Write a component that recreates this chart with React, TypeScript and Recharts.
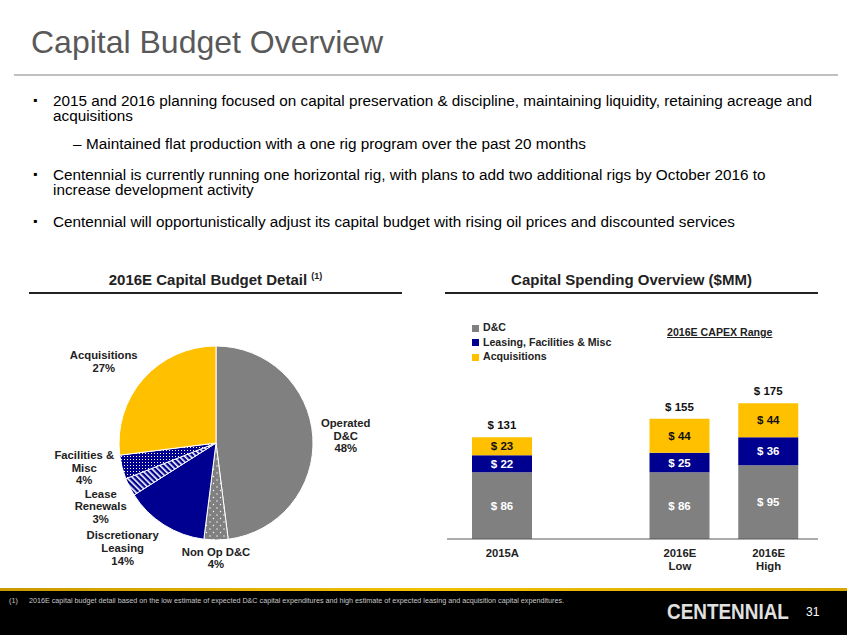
import {
  Bar,
  BarChart,
  Cell,
  LabelList,
  Legend,
  Pie,
  PieChart,
  XAxis,
  YAxis
} from "recharts";

const FONT = "Arial, 'Liberation Sans', sans-serif";

// pie: 2016E capital budget detail (%)
const PIE_NAMES = [
  "Operated\nD&C",
  "Non Op D&C",
  "Discretionary\nLeasing",
  "Lease\nRenewals",
  "Facilities &\nMisc",
  "Acquisitions"
];
const PIE_VALUES = [48, 4, 14, 3, 4, 27];

// bars: capital spending ($MM); the blank category is the gap on the slide
const BAR_CATEGORIES = ["2015A", "", "2016E\nLow", "2016E\nHigh"];
const DC_VALUES = [86, null, 86, 95];
const LEASING_VALUES = [22, null, 25, 36];
const ACQ_VALUES = [23, null, 44, 44];
const SERIES_NAMES = ["D&C", "Leasing, Facilities & Misc", "Acquisitions"];

const GRAY = "#808080";
const NAVY = "#000090";
const GOLD = "#FFC000";

const SLICE_FILLS = [GRAY, "url(#dotsGray)", NAVY, "url(#stripesNavy)", "url(#gridNavy)", GOLD];
// hand placement of the slide's pie labels, relative to the radial spot
const LABEL_NUDGE = [[-5, 1], [0, -20], [-21, -9], [5, 2], [-1, -9], [-11, 8]];

const pieData = PIE_NAMES.map((name, i) => ({ name, value: PIE_VALUES[i] }));
const barData = BAR_CATEGORIES.map((cat, i) => ({
  cat,
  dc: DC_VALUES[i],
  leasing: LEASING_VALUES[i],
  acq: ACQ_VALUES[i],
  total: DC_VALUES[i] == null ? null : (DC_VALUES[i] || 0) + (LEASING_VALUES[i] || 0) + (ACQ_VALUES[i] || 0)
}));

const RAD = Math.PI / 180;

function PieLabel(props: any) {
  const { cx, cy, midAngle, outerRadius, index, name, value } = props;
  const r = outerRadius + 38;
  const [dx, dy] = LABEL_NUDGE[index];
  const x = cx + r * Math.cos(-midAngle * RAD) + dx;
  const y = cy + r * Math.sin(-midAngle * RAD) + dy;
  const lines = [...String(name).split("\n"), `${value}%`];
  const lh = 12.6;
  const y0 = y - ((lines.length - 1) * lh) / 2 + 4;
  return (
    <text textAnchor="middle" fontFamily={FONT} fontSize={11.3} fontWeight="bold" fill="#222">
      {lines.map((l, i) => (
        <tspan key={i} x={x} y={y0 + i * lh}>
          {l}
        </tspan>
      ))}
    </text>
  );
}

function CatTick(props: any) {
  const { x, y, payload } = props;
  const lines = String(payload.value).split("\n");
  return (
    <text textAnchor="middle" fontFamily={FONT} fontSize={11.3} fontWeight="bold" fill="#222">
      {lines.map((l, i) => (
        <tspan key={i} x={x} y={y + 10 + i * 13}>
          {l}
        </tspan>
      ))}
    </text>
  );
}

function TotalLabel(props: any) {
  const { x, y, width, value } = props;
  if (value == null) return null;
  return (
    <text
      x={x + width / 2}
      y={y - 8}
      textAnchor="middle"
      fontFamily={FONT}
      fontSize={11.5}
      fontWeight="bold"
      fill="#111"
    >
      {`$ ${value}`}
    </text>
  );
}

const money = (v: any) => (v == null ? "" : `$ ${v}`);

export default function App() {
  return (
    <div
      style={{
        position: "absolute",
        left: 0,
        top: 0,
        width: 847,
        height: 635,
        background: "#fff",
        fontFamily: FONT,
        overflow: "hidden"
      }}
    >
      <div style={{ position: "absolute", left: 31, top: 24, fontSize: 32, color: "#595959" }}>
        Capital Budget Overview
      </div>
      <div style={{ position: "absolute", left: 14, top: 74, width: 824, height: 2, background: "#c0c0c0" }} />

      <div style={{ position: "absolute", left: 0, top: 0, fontSize: 15.3, color: "#000", lineHeight: "15px" }}>
        <div style={{ position: "absolute", left: 33, top: 93, fontSize: 12 }}>▪</div>
        <div style={{ position: "absolute", left: 53, top: 93, width: 775 }}>
          2015 and 2016 planning focused on capital preservation &amp; discipline, maintaining liquidity, retaining acreage and acquisitions
        </div>
        <div style={{ position: "absolute", left: 73, top: 136 }}>–</div>
        <div style={{ position: "absolute", left: 86, top: 136, whiteSpace: "nowrap" }}>
          Maintained flat production with a one rig program over the past 20 months
        </div>
        <div style={{ position: "absolute", left: 33, top: 167, fontSize: 12 }}>▪</div>
        <div style={{ position: "absolute", left: 53, top: 167, width: 735 }}>
          Centennial is currently running one horizontal rig, with plans to add two additional rigs by October 2016 to increase development activity
        </div>
        <div style={{ position: "absolute", left: 33, top: 214, fontSize: 12 }}>▪</div>
        <div style={{ position: "absolute", left: 53, top: 214, whiteSpace: "nowrap" }}>
          Centennial will opportunistically adjust its capital budget with rising oil prices and discounted services
        </div>
      </div>

      <div style={{ position: "absolute", left: 29, top: 271, width: 373, textAlign: "center", fontSize: 15, fontWeight: "bold", color: "#222" }}>
        2016E Capital Budget Detail <sup style={{ fontSize: 9 }}>(1)</sup>
      </div>
      <div style={{ position: "absolute", left: 29, top: 292, width: 373, height: 2, background: "#222" }} />

      <div style={{ position: "absolute", left: 445, top: 271, width: 373, textAlign: "center", fontSize: 15, fontWeight: "bold", color: "#222" }}>
        Capital Spending Overview ($MM)
      </div>
      <div style={{ position: "absolute", left: 445, top: 292, width: 373, height: 2, background: "#222" }} />

      <div style={{ position: "absolute", left: 16, top: 300 }}>
        <PieChart width={400} height={285} margin={{ top: 0, right: 0, bottom: 0, left: 0 }}>
          <defs>
            <pattern id="dotsGray" width="7" height="7" patternUnits="userSpaceOnUse">
              <rect width="7" height="7" fill={GRAY} />
              <circle cx="1.5" cy="1.5" r="0.7" fill="#fff" />
              <circle cx="5" cy="5" r="0.7" fill="#fff" />
            </pattern>
            <pattern id="stripesNavy" width="4" height="4" patternUnits="userSpaceOnUse" patternTransform="rotate(-45)">
              <rect width="4" height="4" fill={NAVY} />
              <rect width="1.6" height="4" fill="#fff" />
            </pattern>
            <pattern id="gridNavy" width="3" height="3" patternUnits="userSpaceOnUse">
              <rect width="3" height="3" fill={NAVY} />
              <rect width="1" height="1" fill="#fff" />
            </pattern>
          </defs>
          <Pie
            data={pieData}
            dataKey="value"
            nameKey="name"
            cx={200}
            cy={143}
            outerRadius={97}
            startAngle={90}
            endAngle={-270}
            stroke="#fff"
            strokeWidth={1}
            label={PieLabel}
            labelLine={false}
            isAnimationActive={false}
          >
            {pieData.map((d, i) => (
              <Cell key={d.name} fill={SLICE_FILLS[i]} />
            ))}
          </Pie>
        </PieChart>
      </div>

      <div style={{ position: "absolute", left: 440, top: 300 }}>
        <BarChart
          width={400}
          height={290}
          data={barData}
          margin={{ top: 45, right: 22, bottom: 11, left: 7 }}
          barSize={60}
        >
          <XAxis
            dataKey="cat"
            height={40}
            padding={{ left: 11, right: 5 }}
            axisLine={{ stroke: "#595959" }}
            tickLine={false}
            tick={<CatTick />}
            interval={0}
          />
          <YAxis hide domain={[0, 250]} />
          <Legend
            layout="vertical"
            align="center"
            verticalAlign="middle"
            iconType="square"
            iconSize={7}
            itemSorter={(item: any) => SERIES_NAMES.indexOf(item.value)}
            wrapperStyle={{
              left: 32,
              top: 20,
              width: "auto",
              fontFamily: FONT,
              fontSize: 10.6,
              fontWeight: "bold",
              lineHeight: "14.5px"
            }}
            formatter={(v: any) => <span style={{ color: "#222" }}>{v}</span>}
          />
          <Bar dataKey="dc" name={SERIES_NAMES[0]} stackId="a" fill={GRAY} isAnimationActive={false}>
            <LabelList dataKey="dc" position="center" formatter={money} fill="#fff" fontSize={11.5} fontWeight="bold" fontFamily={FONT} />
          </Bar>
          <Bar dataKey="leasing" name={SERIES_NAMES[1]} stackId="a" fill={NAVY} isAnimationActive={false}>
            <LabelList dataKey="leasing" position="center" formatter={money} fill="#fff" fontSize={11.5} fontWeight="bold" fontFamily={FONT} />
          </Bar>
          <Bar dataKey="acq" name={SERIES_NAMES[2]} stackId="a" fill={GOLD} isAnimationActive={false}>
            <LabelList dataKey="acq" position="center" formatter={money} fill="#111" fontSize={11.5} fontWeight="bold" fontFamily={FONT} />
            <LabelList dataKey="total" content={<TotalLabel />} />
          </Bar>
        </BarChart>
      </div>

      <div style={{ position: "absolute", left: 667, top: 326, fontSize: 10.6, fontWeight: "bold", color: "#222", textDecoration: "underline" }}>
        2016E CAPEX Range
      </div>

      <div style={{ position: "absolute", left: 0, top: 588, width: 847, height: 3, background: "linear-gradient(90deg, #c99a00, #f5c000 50%, #d9a800)" }} />
      <div style={{ position: "absolute", left: 0, top: 591, width: 847, height: 44, background: "#000" }} />
      <div style={{ position: "absolute", left: 9, top: 596, fontSize: 7.2, color: "#c8c8c8", whiteSpace: "nowrap" }}>
        (1)
      </div>
      <div style={{ position: "absolute", left: 29, top: 596, fontSize: 7.2, color: "#c8c8c8", whiteSpace: "nowrap" }}>
        2016E capital budget detail based on the low estimate of expected D&amp;C capital expenditures and high estimate of expected leasing and acquisition capital expenditures.
      </div>
      <div
        style={{
          position: "absolute",
          left: 667,
          top: 600,
          fontSize: 21.5,
          fontWeight: "bold",
          color: "#e0e0e0",
          transform: "scaleX(0.88)",
          transformOrigin: "left top",
          whiteSpace: "nowrap"
        }}
      >
        CENTENNIAL
      </div>
      <div style={{ position: "absolute", left: 806, top: 605, fontSize: 12, color: "#fff" }}>31</div>
    </div>
  );
}
